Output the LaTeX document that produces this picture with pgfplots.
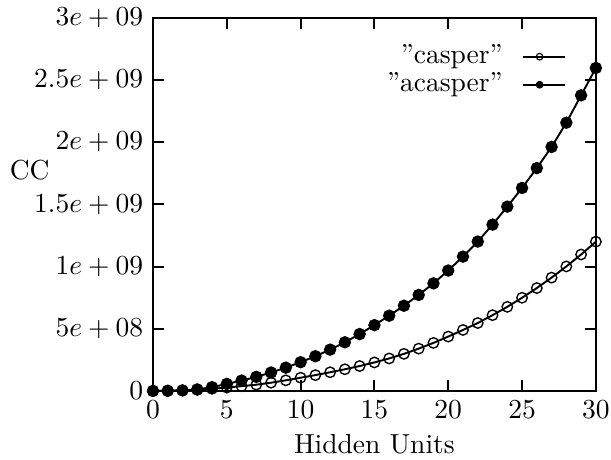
\documentclass[border=0pt]{standalone}
\usepackage{pgfplots}
\usepackage{pgfplotstable}
\pgfplotsset{compat=1.18}
\pgfplotstableread{
x y
0 0.000e9
1 0.001e9
2 0.004e9
3 0.009e9
4 0.017e9
5 0.027e9
6 0.038e9
7 0.050e9
8 0.066e9
9 0.085e9
10 0.106e9
11 0.127e9
12 0.150e9
13 0.174e9
14 0.200e9
15 0.229e9
16 0.261e9
17 0.298e9
18 0.340e9
19 0.386e9
20 0.437e9
21 0.490e9
22 0.546e9
23 0.609e9
24 0.676e9
25 0.749e9
26 0.827e9
27 0.911e9
28 1.001e9
29 1.097e9
30 1.200e9
}\casper
\pgfplotstableread{
x y
0 0.000e9
1 0.001e9
2 0.004e9
3 0.012e9
4 0.030e9
5 0.056e9
6 0.083e9
7 0.113e9
8 0.148e9
9 0.187e9
10 0.231e9
11 0.279e9
12 0.332e9
13 0.391e9
14 0.457e9
15 0.529e9
16 0.605e9
17 0.685e9
18 0.772e9
19 0.865e9
20 0.968e9
21 1.080e9
22 1.201e9
23 1.337e9
24 1.482e9
25 1.632e9
26 1.792e9
27 1.962e9
28 2.157e9
29 2.377e9
30 2.597e9
}\acasper
\begin{document}
\begin{tikzpicture}
\begin{axis}[
  name=ax,
  scale only axis,
  width=161pt, height=135.6pt,
  xmin=0, xmax=30, ymin=0, ymax=3e9,
  xtick={0,5,...,30},
  ytick={0,0.5e9,1e9,1.5e9,2e9,2.5e9,3e9},
  yticklabels={$0$,$5e+08$,$1e+09$,$1.5e+09$,$2e+09$,$2.5e+09$,$3e+09$},
  scaled y ticks=false,
  tick align=inside,
  major tick length=4pt,
  xtick pos=both, ytick pos=both,
  axis line style={line width=0.75pt},
  every tick/.style={line width=0.75pt, black},
  xlabel={Hidden Units},
  ylabel={CC},
  ylabel style={rotate=-90, at={(axis description cs:-0.345,0.591)}, anchor=west},
  xlabel style={yshift=1pt},
  legend style={draw=none, fill=none, inner sep=0pt, at={(axis description cs:0.9345,0.935)}, anchor=north east,
    nodes={inner sep=1pt, text height=6.5pt, text depth=1.7pt}, column sep=6pt},
  legend cell align=right,
  legend plot pos=right,
  legend image code/.code={
    \draw[#1, mark=none, line width=0.8pt] (0pt,0pt) -- (15.3pt,0pt);
    \path[#1, mark size=1.2pt, mark options={line width=0.4pt}] plot coordinates {(6pt,0pt)};
  },
]
\addplot[black, line width=0.7pt, mark=o, mark size=1.9pt, mark options={line width=0.5pt}] table[x=x,y=y]{\casper};
\addlegendentry{''casper''}
\addplot[black, line width=0.7pt, mark=*, mark size=1.9pt] table[x=x,y=y]{\acasper};
\addlegendentry{''acasper''}
\end{axis}
\pgfresetboundingbox
\path[use as bounding box] ([shift={(-55.6pt,-25.1pt)}]ax.south west) rectangle ([shift={(5.5pt,6.5pt)}]ax.north east);
\end{tikzpicture}
\end{document}
